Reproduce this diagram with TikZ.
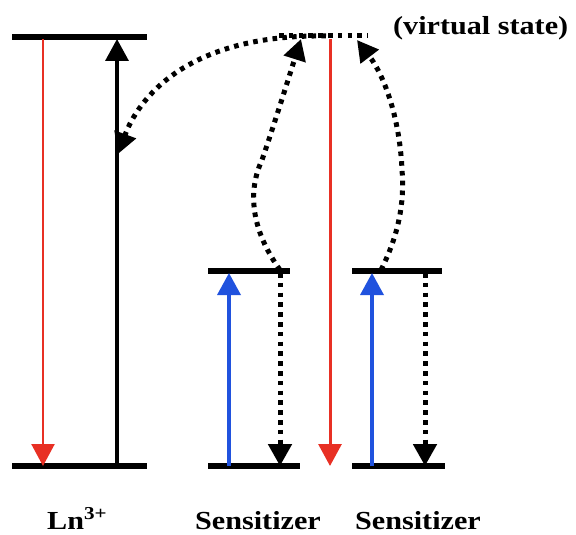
\documentclass[tikz,border=0pt]{standalone}
\usepackage{fontspec}
\setmainfont{Liberation Serif}
\newfontfamily\labelfont[FakeStretch=1.16]{Liberation Serif}
\usetikzlibrary{arrows.meta}
\definecolor{emitred}{RGB}{232,48,36}
\definecolor{absblue}{RGB}{32,82,222}
\tikzset{
  level/.style={line width=5.4pt},
  bighead/.style={-{Triangle[width=23pt,length=22pt]}},
  solidarrow/.style={bighead, line width=3.4pt},
  emission/.style={bighead, line width=3pt, draw=emitred, color=emitred},
  absorption/.style={bighead, line width=3.6pt, draw=absblue, color=absblue},
  dots/.style={line width=5pt, dash pattern=on 4.6pt off 5.2pt},
  transfer/.style={dots, -{Triangle[width=22pt,length=21pt]}},
  relax/.style={dots, bighead},
  label/.style={font=\labelfont\bfseries\fontsize{26}{30}\selectfont, inner sep=0pt, anchor=base west},
}
\begin{document}
\begin{tikzpicture}[x=1pt,y=-1pt]
\useasboundingbox (0,0) rectangle (576,535);

% Ln3+ levels
\coordinate (lnTopL) at (12,37);
\coordinate (lnTopR) at (147,37);
\coordinate (lnBotL) at (12,466);
\coordinate (lnBotR) at (147,466);
\draw[level] (lnTopL) -- (lnTopR);
\draw[level] (lnBotL) -- (lnBotR);

% first sensitizer levels
\coordinate (s1TopL) at (208,271);
\coordinate (s1TopR) at (290,271);
\coordinate (s1BotL) at (208,466);
\coordinate (s1BotR) at (300,466);
\draw[level] (s1TopL) -- (s1TopR);
\draw[level] (s1BotL) -- (s1BotR);

% second sensitizer levels
\coordinate (s2TopL) at (352,271);
\coordinate (s2TopR) at (442,271);
\coordinate (s2BotL) at (352,466);
\coordinate (s2BotR) at (445,466);
\draw[level] (s2TopL) -- (s2TopR);
\draw[level] (s2BotL) -- (s2BotR);

% virtual state
\coordinate (vsL) at (279,36);
\coordinate (vsR) at (368,36);
\draw[dots] (vsL) -- (vsR);

% Ln3+ transitions
\coordinate (lnRedTop) at (43,39);
\coordinate (lnRedBot) at (43,466);
\draw[emission, line width=2.4pt] (lnRedTop) -- (lnRedBot);
\coordinate (lnBlkBot) at (117,466);
\coordinate (lnBlkTop) at (117,39);
\draw[solidarrow] (lnBlkBot) -- (lnBlkTop);

% upconverted emission from the virtual state
\coordinate (vsRedTop) at (330,39);
\coordinate (vsRedBot) at (330,466);
\draw[emission] (vsRedTop) -- (vsRedBot);

% sensitizer absorption and relaxation
\coordinate (s1BlueBot) at (229,466);
\coordinate (s1BlueTop) at (229,273);
\draw[absorption] (s1BlueBot) -- (s1BlueTop);
\coordinate (s1DotTop) at (280,273);
\coordinate (s1DotBot) at (280,466);
\draw[relax] (s1DotTop) -- (s1DotBot);

\coordinate (s2BlueBot) at (372,466);
\coordinate (s2BlueTop) at (372,273);
\draw[absorption] (s2BlueBot) -- (s2BlueTop);
\coordinate (s2DotTop) at (425,273);
\coordinate (s2DotBot) at (425,466);
\draw[relax] (s2DotTop) -- (s2DotBot);

% energy transfer to the virtual state
\coordinate (s1Start) at (280,270);
\coordinate (s1Mid) at (262,160);
\coordinate (vsIn1) at (301,39);
\draw[transfer] (s1Start) .. controls (250,228) and (248,190) .. (s1Mid)
  .. controls (274,125) and (288,80) .. (vsIn1);

\coordinate (s2Start) at (381,270);
\coordinate (s2Mid) at (402,170);
\coordinate (vsIn2) at (357,40);
\draw[transfer] (s2Start) .. controls (396,240) and (405,208) .. (s2Mid)
  .. controls (400,122) and (386,78) .. (vsIn2);

% transfer from the virtual state back to Ln3+
\coordinate (vsOut) at (326,36);
\coordinate (lnIn) at (118,154);
\draw[transfer] (vsOut) .. controls (185,34) and (138,100) .. (lnIn);

% labels
\node[label] (vsText) at (393,35) {(virtual state)};
\node[label] (lnText) at (47,529) {Ln\textsuperscript{3+}};
\node[label] (sens1Text) at (195,529) {Sensitizer};
\node[label] (sens2Text) at (355,529) {Sensitizer};
\end{tikzpicture}
\end{document}
